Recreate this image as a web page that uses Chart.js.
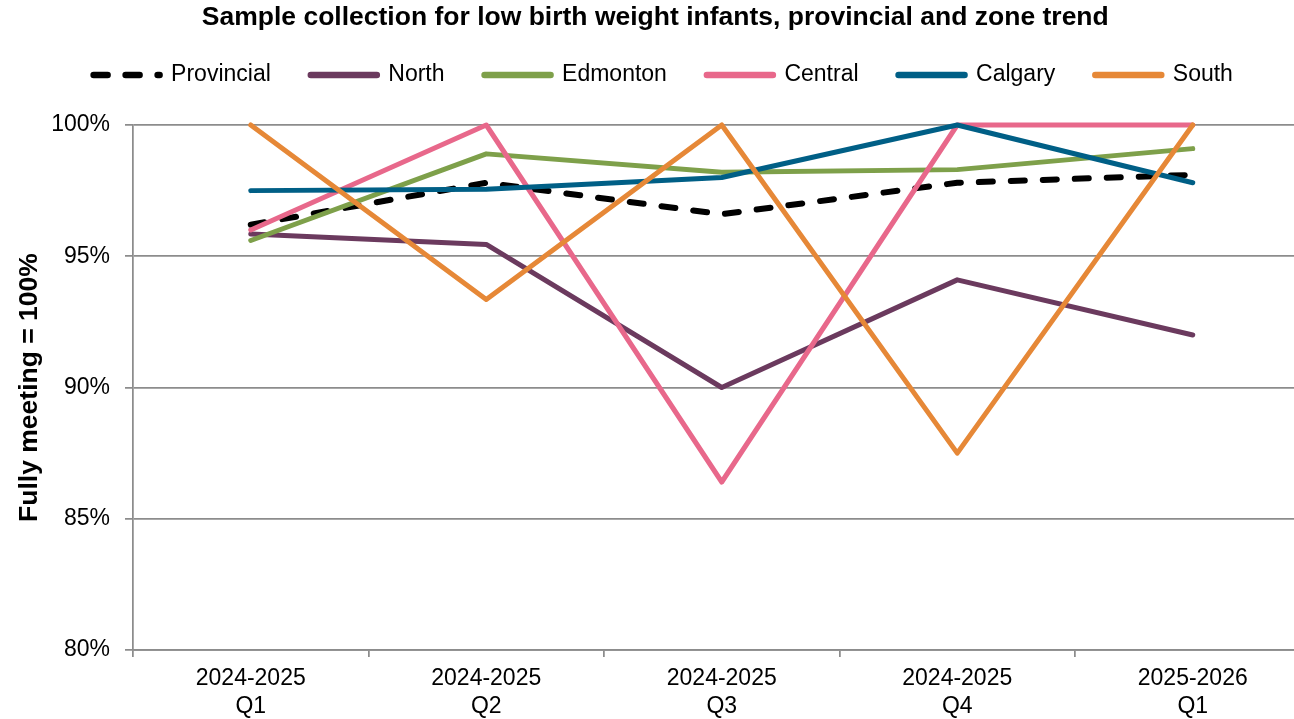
<!DOCTYPE html>
<html>
<head>
<meta charset="utf-8">
<title>Sample collection trend</title>
<script src="https://cdn.jsdelivr.net/npm/chart.js@4.4.1/dist/chart.umd.min.js"></script>
<style>
  html, body { margin: 0; padding: 0; overflow: hidden; background: #fff; }
  .chart-wrap { position: relative; width: 1318px; height: 719px; }
</style>
</head>
<body>
<div class="chart-wrap"><canvas id="trendChart"></canvas></div>
<script>
// quarters on the x axis (two-line labels)
const quarters = [
  ["2024-2025", "Q1"],
  ["2024-2025", "Q2"],
  ["2024-2025", "Q3"],
  ["2024-2025", "Q4"],
  ["2025-2026", "Q1"]
];

// % fully meeting
const provincial = [96.2, 97.8, 96.6, 97.8, 98.1];
const north      = [95.85, 95.45, 90.0, 94.1, 92.0];
const edmonton   = [95.6, 98.9, 98.2, 98.3, 99.1];
const central    = [96.0, 100, 86.4, 100, 100];
const calgary    = [97.5, 97.55, 98.0, 100, 97.8];
const south      = [100, 93.35, 100, 87.5, 100];

const yTicks = [80, 85, 90, 95, 100];

const series = [
  { label: "Provincial", data: provincial, color: "#000000", dash: [14, 18], width: 6 },
  { label: "North",      data: north,      color: "#6B3A5E" },
  { label: "Edmonton",   data: edmonton,   color: "#7EA04A" },
  { label: "Central",    data: central,    color: "#E8688B" },
  { label: "Calgary",    data: calgary,    color: "#005F86" },
  { label: "South",      data: south,      color: "#E68837" }
];

const gridGrey = "#8c8c8c";
Chart.defaults.font.family = '"Liberation Sans", Arial, sans-serif';
Chart.defaults.color = "#000";

// legend sits closer to the title than its padding would allow
const legendShift = {
  id: "legendShift",
  afterLayout(chart){
    const l = chart.legend;
    if (!l) return;
    l.top -= 28.5;
    l.bottom -= 28.5;
    l.left += 8;
    l.right += 8;
  }
};

const datasets = series.map((s, i) => ({
  label: s.label,
  data: s.data,
  borderColor: s.color,
  backgroundColor: s.color,
  borderWidth: s.width || 5,
  borderDash: s.dash || [],
  borderCapStyle: "round",
  borderJoinStyle: "round",
  pointRadius: 0,
  pointHoverRadius: 0,
  tension: 0,
  clip: false,
  order: series.length - i   // later series drawn on top, like the original
}));

new Chart(document.getElementById("trendChart"), {
  type: "line",
  data: { labels: quarters, datasets },
  plugins: [legendShift],
  options: {
    responsive: true,
    maintainAspectRatio: false,
    animation: false,
    layout: { padding: { top: 0, right: 7.5, bottom: 0, left: 0 } },
    plugins: {
      title: {
        display: true,
        text: "Sample collection for low birth weight infants, provincial and zone trend",
        font: { size: 26.5, weight: "bold" },
        color: "#000",
        padding: { top: 2, bottom: 18.2 }
      },
      legend: {
        position: "top",
        labels: {
          usePointStyle: true,
          pointStyle: "line",
          pointStyleWidth: 66,
          boxWidth: 66,
          padding: 40,
          font: { size: 23 },
          color: "#000",
          generateLabels: () => series.map((s, i) => ({
            text: s.label,
            datasetIndex: i,
            fillStyle: s.color,
            strokeStyle: s.color,
            fontColor: "#000",
            lineWidth: 6.5,
            lineCap: "round",
            lineDash: s.dash || [],
            pointStyle: "line",
            hidden: false
          }))
        }
      },
      tooltip: { enabled: false }
    },
    scales: {
      x: {
        offset: true,
        grid: {
          offset: true,
          drawOnChartArea: false,
          drawTicks: true,
          tickLength: 7,
          color: gridGrey,
          lineWidth: 1.75
        },
        border: { color: gridGrey, width: 1.75 },
        ticks: {
          font: { size: 23 },
          color: "#000",
          padding: 8,
          maxRotation: 0,
          autoSkip: false
        },
        afterFit: s => { s.height = 69; }
      },
      y: {
        min: 80,
        max: 100,
        afterBuildTicks: s => { s.ticks = yTicks.map(v => ({ value: v })); },
        grid: {
          color: gridGrey,
          lineWidth: 1.75,
          tickLength: 8
        },
        border: { color: gridGrey, width: 1.75 },
        ticks: {
          font: { size: 23 },
          color: "#000",
          padding: 15,
          callback: v => v + "%"
        },
        title: {
          display: true,
          text: "Fully meeting = 100%",
          font: { size: 26.5, weight: "bold" },
          color: "#000",
          padding: { top: 14, bottom: 0 }
        },
        afterFit: s => { s.width = 133; }
      }
    }
  }
});
</script>
</body>
</html>
